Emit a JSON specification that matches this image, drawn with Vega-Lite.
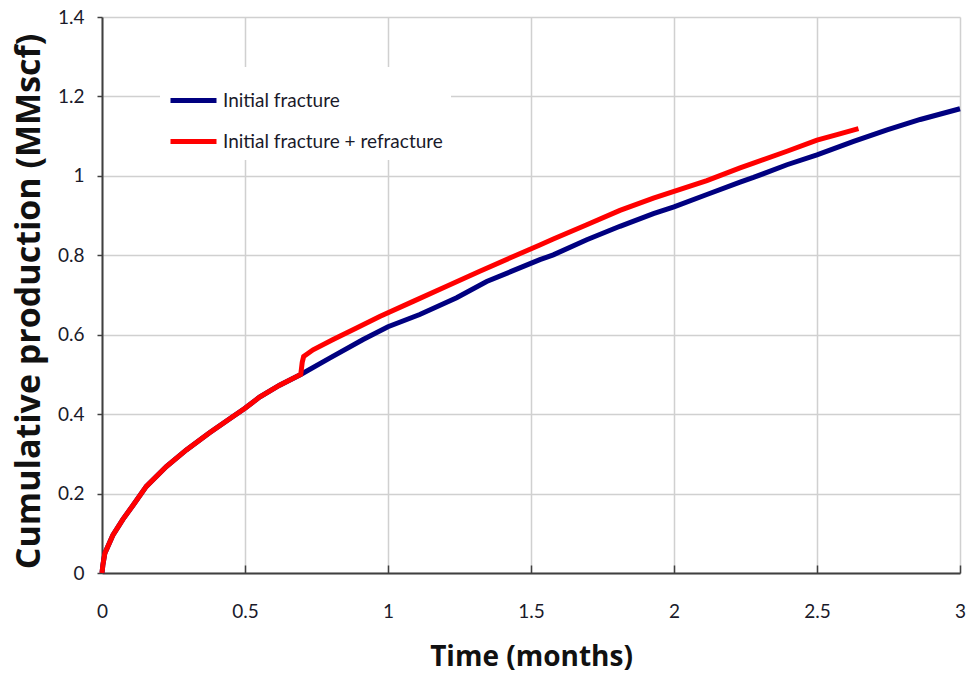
{
  "$schema": "https://vega.github.io/schema/vega-lite/v6.json",
  "autosize": {"type": "none"},
  "padding": {"left": 102, "top": 17, "right": 8, "bottom": 105},
  "width": 858,
  "height": 556,
  "background": "white",
  "config": {
    "view": {"stroke": null},
    "axis": {
      "gridColor": "#d0d0d0",
      "gridWidth": 1.5,
      "domainColor": "#404040",
      "domainWidth": 2,
      "tickColor": "#404040",
      "tickWidth": 1.5,
      "labelFont": "Lato",
      "labelFontSize": 19,
      "labelColor": "#1a1a2a",
      "titleFont": "Open Sans",
      "titleFontSize": 28,
      "titleFontWeight": "bold",
      "titleColor": "#111111"
    },
    "legend": {
      "labelFont": "Lato",
      "labelFontSize": 19,
      "labelColor": "#1a1a2a"
    }
  },
  "data": {
    "values": [
      {"series": "Initial fracture", "t": 0, "v": 0},
      {"series": "Initial fracture", "t": 0.003, "v": 0.02},
      {"series": "Initial fracture", "t": 0.01, "v": 0.05},
      {"series": "Initial fracture", "t": 0.038, "v": 0.095},
      {"series": "Initial fracture", "t": 0.073, "v": 0.135},
      {"series": "Initial fracture", "t": 0.108, "v": 0.17},
      {"series": "Initial fracture", "t": 0.155, "v": 0.218},
      {"series": "Initial fracture", "t": 0.225, "v": 0.268},
      {"series": "Initial fracture", "t": 0.295, "v": 0.31},
      {"series": "Initial fracture", "t": 0.376, "v": 0.353},
      {"series": "Initial fracture", "t": 0.458, "v": 0.394},
      {"series": "Initial fracture", "t": 0.5, "v": 0.415},
      {"series": "Initial fracture", "t": 0.551, "v": 0.443},
      {"series": "Initial fracture", "t": 0.621, "v": 0.473},
      {"series": "Initial fracture", "t": 0.695, "v": 0.5},
      {"series": "Initial fracture", "t": 0.796, "v": 0.541},
      {"series": "Initial fracture", "t": 0.913, "v": 0.588},
      {"series": "Initial fracture", "t": 1.0, "v": 0.62},
      {"series": "Initial fracture", "t": 1.111, "v": 0.651},
      {"series": "Initial fracture", "t": 1.24, "v": 0.693},
      {"series": "Initial fracture", "t": 1.345, "v": 0.734},
      {"series": "Initial fracture", "t": 1.433, "v": 0.76},
      {"series": "Initial fracture", "t": 1.531, "v": 0.789},
      {"series": "Initial fracture", "t": 1.578, "v": 0.801},
      {"series": "Initial fracture", "t": 1.695, "v": 0.839},
      {"series": "Initial fracture", "t": 1.811, "v": 0.873},
      {"series": "Initial fracture", "t": 1.928, "v": 0.905},
      {"series": "Initial fracture", "t": 2.0, "v": 0.922},
      {"series": "Initial fracture", "t": 2.115, "v": 0.953},
      {"series": "Initial fracture", "t": 2.231, "v": 0.984},
      {"series": "Initial fracture", "t": 2.278, "v": 0.996},
      {"series": "Initial fracture", "t": 2.395, "v": 1.028},
      {"series": "Initial fracture", "t": 2.5, "v": 1.053},
      {"series": "Initial fracture", "t": 2.628, "v": 1.087},
      {"series": "Initial fracture", "t": 2.745, "v": 1.116},
      {"series": "Initial fracture", "t": 2.861, "v": 1.142},
      {"series": "Initial fracture", "t": 3.0, "v": 1.169},
      {"series": "Initial fracture + refracture", "t": 0, "v": 0},
      {"series": "Initial fracture + refracture", "t": 0.003, "v": 0.02},
      {"series": "Initial fracture + refracture", "t": 0.01, "v": 0.05},
      {"series": "Initial fracture + refracture", "t": 0.038, "v": 0.095},
      {"series": "Initial fracture + refracture", "t": 0.073, "v": 0.135},
      {"series": "Initial fracture + refracture", "t": 0.108, "v": 0.17},
      {"series": "Initial fracture + refracture", "t": 0.155, "v": 0.218},
      {"series": "Initial fracture + refracture", "t": 0.225, "v": 0.268},
      {"series": "Initial fracture + refracture", "t": 0.295, "v": 0.31},
      {"series": "Initial fracture + refracture", "t": 0.376, "v": 0.353},
      {"series": "Initial fracture + refracture", "t": 0.458, "v": 0.394},
      {"series": "Initial fracture + refracture", "t": 0.5, "v": 0.415},
      {"series": "Initial fracture + refracture", "t": 0.551, "v": 0.443},
      {"series": "Initial fracture + refracture", "t": 0.621, "v": 0.473},
      {"series": "Initial fracture + refracture", "t": 0.695, "v": 0.5},
      {"series": "Initial fracture + refracture", "t": 0.7, "v": 0.53},
      {"series": "Initial fracture + refracture", "t": 0.705, "v": 0.545},
      {"series": "Initial fracture + refracture", "t": 0.738, "v": 0.562},
      {"series": "Initial fracture + refracture", "t": 0.808, "v": 0.588},
      {"series": "Initial fracture + refracture", "t": 0.89, "v": 0.617},
      {"series": "Initial fracture + refracture", "t": 0.971, "v": 0.646},
      {"series": "Initial fracture + refracture", "t": 1.088, "v": 0.684},
      {"series": "Initial fracture + refracture", "t": 1.205, "v": 0.722},
      {"series": "Initial fracture + refracture", "t": 1.321, "v": 0.76},
      {"series": "Initial fracture + refracture", "t": 1.438, "v": 0.797},
      {"series": "Initial fracture + refracture", "t": 1.531, "v": 0.826},
      {"series": "Initial fracture + refracture", "t": 1.578, "v": 0.841},
      {"series": "Initial fracture + refracture", "t": 1.695, "v": 0.877},
      {"series": "Initial fracture + refracture", "t": 1.811, "v": 0.913},
      {"series": "Initial fracture + refracture", "t": 1.928, "v": 0.944},
      {"series": "Initial fracture + refracture", "t": 2.0, "v": 0.961},
      {"series": "Initial fracture + refracture", "t": 2.115, "v": 0.988},
      {"series": "Initial fracture + refracture", "t": 2.231, "v": 1.02},
      {"series": "Initial fracture + refracture", "t": 2.278, "v": 1.032},
      {"series": "Initial fracture + refracture", "t": 2.395, "v": 1.062},
      {"series": "Initial fracture + refracture", "t": 2.5, "v": 1.09},
      {"series": "Initial fracture + refracture", "t": 2.57, "v": 1.104},
      {"series": "Initial fracture + refracture", "t": 2.645, "v": 1.119}
    ]
  },
  "mark": {"type": "line", "strokeWidth": 5, "interpolate": "linear"},
  "encoding": {
    "x": {
      "field": "t",
      "type": "quantitative",
      "scale": {"domain": [0, 3], "nice": false},
      "axis": {
        "title": "Time (months)",
        "values": [0, 0.5, 1, 1.5, 2, 2.5, 3],
        "format": ".1~f",
        "tickSize": -8,
        "labelPadding": 37,
        "labelFlush": false,
        "titleX": 429,
        "titleY": 84,
        "titleBaseline": "middle",
        "titleAlign": "center"
      }
    },
    "y": {
      "field": "v",
      "type": "quantitative",
      "scale": {"domain": [0, 1.4], "nice": false},
      "axis": {
        "title": "Cumulative production (MMscf)",
        "values": [0, 0.2, 0.4, 0.6, 0.8, 1, 1.2, 1.4],
        "format": ".1~f",
        "tickSize": 5,
        "labelPadding": 13,
        "labelFlush": false,
        "titleFontSize": 34,
        "titleX": -73,
        "titleY": 284,
        "titleAngle": -90,
        "titleAlign": "center",
        "titleBaseline": "middle"
      }
    },
    "color": {
      "field": "series",
      "type": "nominal",
      "scale": {
        "domain": ["Initial fracture", "Initial fracture + refracture"],
        "range": ["#000080", "#ff0000"]
      },
      "legend": {
        "title": null,
        "orient": "none",
        "legendX": 58,
        "legendY": 50,
        "symbolType": "stroke",
        "symbolSize": 2116,
        "symbolStrokeWidth": 5,
        "labelOffset": 4,
        "labelLimit": 0,
        "padding": 8,
        "rowPadding": 5,
        "fillColor": "white"
      }
    }
  }
}
